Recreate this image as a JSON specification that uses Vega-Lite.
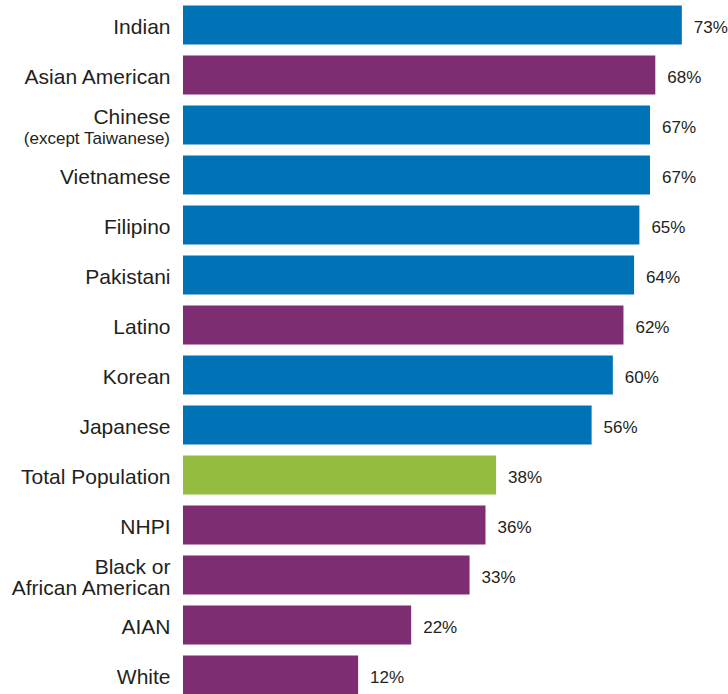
{
  "$schema": "https://vega.github.io/schema/vega-lite/v6.json",
  "autosize": "none",
  "width": 545,
  "height": 694,
  "padding": {"left": 183, "top": 0, "right": 0, "bottom": 0},
  "background": "white",
  "config": {"view": {"stroke": null}, "font": "Liberation Sans"},
  "data": {
    "values": [
      {"group": "Indian", "value": 0.73, "type": "Asian subgroup"},
      {"group": "Asian American", "value": 0.68, "type": "Race"},
      {"group": "Chinese", "value": 0.67, "type": "Asian subgroup", "sub": "(except Taiwanese)"},
      {"group": "Vietnamese", "value": 0.67, "type": "Asian subgroup"},
      {"group": "Filipino", "value": 0.65, "type": "Asian subgroup"},
      {"group": "Pakistani", "value": 0.64, "type": "Asian subgroup"},
      {"group": "Latino", "value": 0.62, "type": "Race"},
      {"group": "Korean", "value": 0.60, "type": "Asian subgroup"},
      {"group": "Japanese", "value": 0.56, "type": "Asian subgroup"},
      {"group": "Total Population", "value": 0.38, "type": "Total"},
      {"group": "NHPI", "value": 0.36, "type": "Race"},
      {"group": "Black or|African American", "value": 0.33, "type": "Race"},
      {"group": "AIAN", "value": 0.22, "type": "Race"},
      {"group": "White", "value": 0.12, "type": "Race"}
    ]
  },
  "encoding": {
    "y": {
      "field": "group",
      "type": "nominal",
      "sort": null,
      "scale": {"range": [0, 700], "paddingInner": 0.22, "paddingOuter": 0.11},
      "axis": {
        "title": null,
        "domain": false,
        "ticks": false,
        "labelPadding": 13,
        "labelFontSize": 21,
        "labelColor": "#231f20",
        "labelLineHeight": 21,
        "labelFont": "Liberation Sans",
        "labelExpr": "split(datum.value, '|')",
        "labelLimit": 300,
        "labelOffset": {"condition": {"test": "datum.value == 'Chinese' || datum.value == 'Black or|African American'", "value": -7}, "value": 3}
      }
    }
  },
  "layer": [
    {
      "mark": {"type": "bar"},
      "encoding": {
        "x": {
          "field": "value",
          "type": "quantitative",
          "scale": {"domain": [-0.21, 0.817], "nice": false, "zero": false},
          "axis": null
        },
        "x2": {"datum": -0.21},
        "color": {
          "field": "type",
          "type": "nominal",
          "scale": {"domain": ["Asian subgroup", "Race", "Total"], "range": ["#0073b7", "#7e2d73", "#94bd40"]},
          "legend": null
        }
      }
    },
    {
      "mark": {"type": "text", "align": "left", "baseline": "middle", "dx": 12, "dy": 2.5, "fontSize": 17, "color": "#231f20", "font": "Liberation Sans"},
      "encoding": {
        "x": {"field": "value", "type": "quantitative"},
        "text": {"field": "value", "type": "quantitative", "format": ".0%"}
      }
    },
    {
      "transform": [{"filter": "datum.sub != null"}],
      "mark": {"type": "text", "align": "right", "baseline": "middle", "dx": -13, "dy": 14, "fontSize": 17, "color": "#231f20", "font": "Liberation Sans"},
      "encoding": {
        "x": {"datum": -0.21},
        "text": {"field": "sub"}
      }
    }
  ]
}
